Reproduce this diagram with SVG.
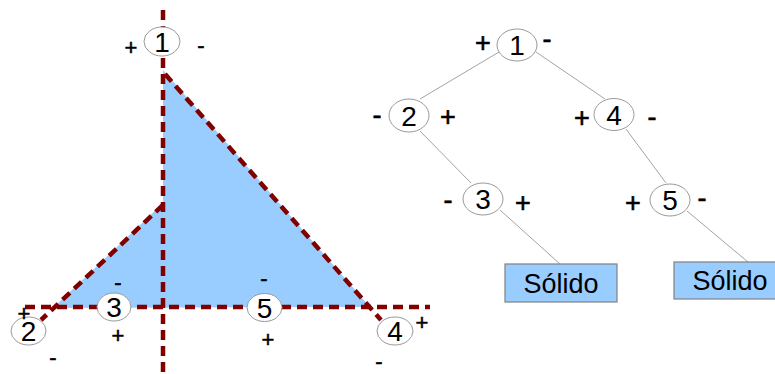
<svg xmlns="http://www.w3.org/2000/svg" width="775" height="374" viewBox="0 0 775 374">
<style>
.cut{fill:none;stroke:#800000;stroke-width:4.5;stroke-dasharray:10,6}
.node{fill:#fff;stroke:#999;stroke-width:1}
.edge{stroke:#999;stroke-width:0.9;fill:none}
.num{font-family:"Liberation Sans",Arial,sans-serif;font-size:28px;text-anchor:middle;fill:#000}
.sl{font-family:"Liberation Sans",Arial,sans-serif;font-size:22px;text-anchor:middle;fill:#000;stroke:#000;stroke-width:0.5}
.sr{font-family:"Liberation Sans",Arial,sans-serif;font-size:27px;text-anchor:middle;fill:#000;stroke:#000;stroke-width:0.6}
.solid{fill:#99ccff;stroke:#808080;stroke-width:1.2}
.lab{font-family:"Liberation Sans",Arial,sans-serif;font-size:27px;text-anchor:middle;fill:#000}
</style>
<rect width="775" height="374" fill="#fff"/>
<g id="scene">
<polygon points="163,70 370,307 53,308 163,203" fill="#99ccff"/>
<line class="cut" x1="163" y1="10" x2="163" y2="374"/>
<line class="cut" x1="25" y1="307" x2="430" y2="307"/>
<line class="cut" x1="165" y1="74" x2="381" y2="320"/>
<line class="cut" x1="163" y1="205" x2="41" y2="320"/>
<g id="s1"><ellipse class="node" cx="162" cy="41.5" rx="18" ry="14.5"/><text class="num" x="162" y="51.5">1</text></g>
<g id="s2"><ellipse class="node" cx="28.5" cy="331" rx="17.5" ry="14"/><text class="num" x="28.5" y="341">2</text></g>
<g id="s3"><ellipse class="node" cx="114" cy="307" rx="17" ry="14"/><text class="num" x="114" y="317">3</text></g>
<g id="s5"><ellipse class="node" cx="264.5" cy="307.5" rx="17.5" ry="14"/><text class="num" x="264.5" y="317.5">5</text></g>
<g id="s4"><ellipse class="node" cx="395" cy="331" rx="18" ry="14"/><text class="num" x="395" y="341">4</text></g>
<text class="sl" x="131" y="55">+</text>
<text class="sl" x="201" y="53">-</text>
<text class="sl" x="118" y="290">-</text>
<text class="sl" x="118" y="343">+</text>
<text class="sl" x="264" y="286">-</text>
<text class="sl" x="268" y="347">+</text>
<text class="sl" x="24" y="321">+</text>
<text class="sl" x="53" y="365">-</text>
<text class="sl" x="422" y="330">+</text>
<text class="sl" x="379" y="369">-</text>
</g>
<g id="connectors">
<line class="edge" x1="499" y1="52" x2="420" y2="99"/>
<line class="edge" x1="536" y1="52" x2="605" y2="99"/>
<line class="edge" x1="420" y1="131" x2="471" y2="183"/>
<line class="edge" x1="626" y1="129" x2="666" y2="183"/>
<line class="edge" x1="500" y1="210" x2="560" y2="264"/>
<line class="edge" x1="687" y1="211" x2="748" y2="262"/>
</g>
<g id="n1"><ellipse class="node" cx="517" cy="45" rx="20" ry="16"/><text class="num" x="517" y="55">1</text></g>
<g id="n2"><ellipse class="node" cx="409" cy="115.5" rx="20" ry="16.5"/><text class="num" x="409" y="125.5">2</text></g>
<g id="n4"><ellipse class="node" cx="614" cy="114.5" rx="20" ry="16"/><text class="num" x="614" y="124.5">4</text></g>
<g id="n3"><ellipse class="node" cx="483" cy="199" rx="20" ry="16"/><text class="num" x="483" y="209">3</text></g>
<g id="n5"><ellipse class="node" cx="670" cy="200" rx="20" ry="16"/><text class="num" x="670" y="210">5</text></g>
<g id="leaf1"><rect class="solid" x="505" y="264" width="112" height="38"/><text class="lab" x="561" y="292.5">Sólido</text></g>
<g id="leaf2"><rect class="solid" x="674" y="262" width="112" height="37"/><text class="lab" x="730" y="290">Sólido</text></g>
<g id="signs">
<text class="sr" x="483" y="52">+</text>
<text class="sr" x="547" y="48">-</text>
<text class="sr" x="377" y="123.5">-</text>
<text class="sr" x="448" y="126">+</text>
<text class="sr" x="582" y="127">+</text>
<text class="sr" x="652" y="125.5">-</text>
<text class="sr" x="448" y="208.5">-</text>
<text class="sr" x="523" y="212">+</text>
<text class="sr" x="633" y="212">+</text>
<text class="sr" x="702" y="206.5">-</text>
</g>
</svg>
